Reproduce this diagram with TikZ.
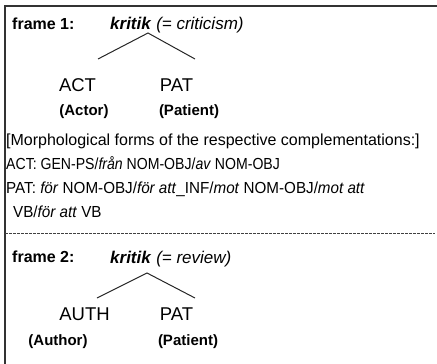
\documentclass[tikz,border=0pt]{standalone}
\usepackage{fontspec}
\setmainfont{Liberation Sans}
\usetikzlibrary{positioning}
\tikzstyle{txt}=[anchor=base west, inner sep=0pt, font=\fontsize{16}{20}\selectfont]
\tikzstyle{headword}=[anchor=base west, inner sep=0pt, font=\fontsize{17}{21}\selectfont]
\tikzstyle{role}=[anchor=base, inner sep=0pt, font=\fontsize{18.5}{22}\selectfont]
\tikzstyle{gloss}=[anchor=base, inner sep=0pt, font=\bfseries\fontsize{15}{18}\selectfont]
\tikzstyle{branch}=[line width=1pt, black!85]

\begin{document}
\begin{tikzpicture}[x=1pt, y=-1pt]
	\useasboundingbox (0,0) rectangle (437,364);

	% box edges
	\coordinate (TopRight) at (437,6);
	\coordinate (TopLeft) at (5,6);
	\coordinate (BottomLeft) at (5,364);
	\draw[line width=1.1pt, black!80] (TopRight) -- (TopLeft) -- (BottomLeft);

	% frame 1
	\node (Frame1) [txt, font=\bfseries\fontsize{16}{20}\selectfont] at (12,29.5) {frame 1:};
	\node (Kritik1) [headword] at (110,30) {\textbf{\textit{kritik}} \textit{(= criticism)}};
	\coordinate (Apex1) at (148,33);
	\coordinate (LeftEnd1) at (98,59);
	\coordinate (RightEnd1) at (195,59);
	\draw[branch] (LeftEnd1) -- (Apex1) -- (RightEnd1);

	\node (ACT) [role] at (77.5,91.5) {ACT};
	\node (PAT1) [role] at (176.5,91.5) {PAT};
	\node (Actor) [gloss] at (84,115.5) {(Actor)};
	\node (Patient1) [gloss] at (189,115.5) {(Patient)};

	% morphological forms
	\node (Morph) [txt] at (6,145) {[Morphological forms of the respective complementations:]};
	\node (ActForms) [txt] at (6,169) {\scalebox{0.88}[1]{ACT: GEN-PS/\textit{från} NOM-OBJ/\textit{av} NOM-OBJ}};
	\node (PatForms) [txt] at (6,193)
        {\scalebox{0.95}[1]{PAT: \textit{för} NOM-OBJ/\textit{för att}\_INF/\textit{mot} NOM-OBJ/\textit{mot att}}};
	\node (PatFormsCont) [txt] at (13,217) {\scalebox{0.95}[1]{VB/\textit{för att} VB}};

	\coordinate (SepLeft) at (5,233);
	\coordinate (SepRight) at (435,233);
	\draw[line width=0.8pt, black!75, dash pattern=on 3pt off 1pt] (SepLeft) -- (SepRight);

	% frame 2
	\node (Frame2) [txt, font=\bfseries\fontsize{16}{20}\selectfont] at (12,262.5) {frame 2:};
	\node (Kritik2) [headword] at (110,263) {\textbf{\textit{kritik}} \textit{(= review)}};
	\coordinate (Apex2) at (147,273);
	\coordinate (LeftEnd2) at (97,298);
	\coordinate (RightEnd2) at (195,298);
	\draw[branch] (LeftEnd2) -- (Apex2) -- (RightEnd2);

	\node (AUTH) [role] at (84.5,320.5) {AUTH};
	\node (PAT2) [role] at (176.5,320.5) {PAT};
	\node (Author) [gloss] at (58,345.5) {(Author)};
	\node (Patient2) [gloss] at (188,345.5) {(Patient)};

\end{tikzpicture}
\end{document}
